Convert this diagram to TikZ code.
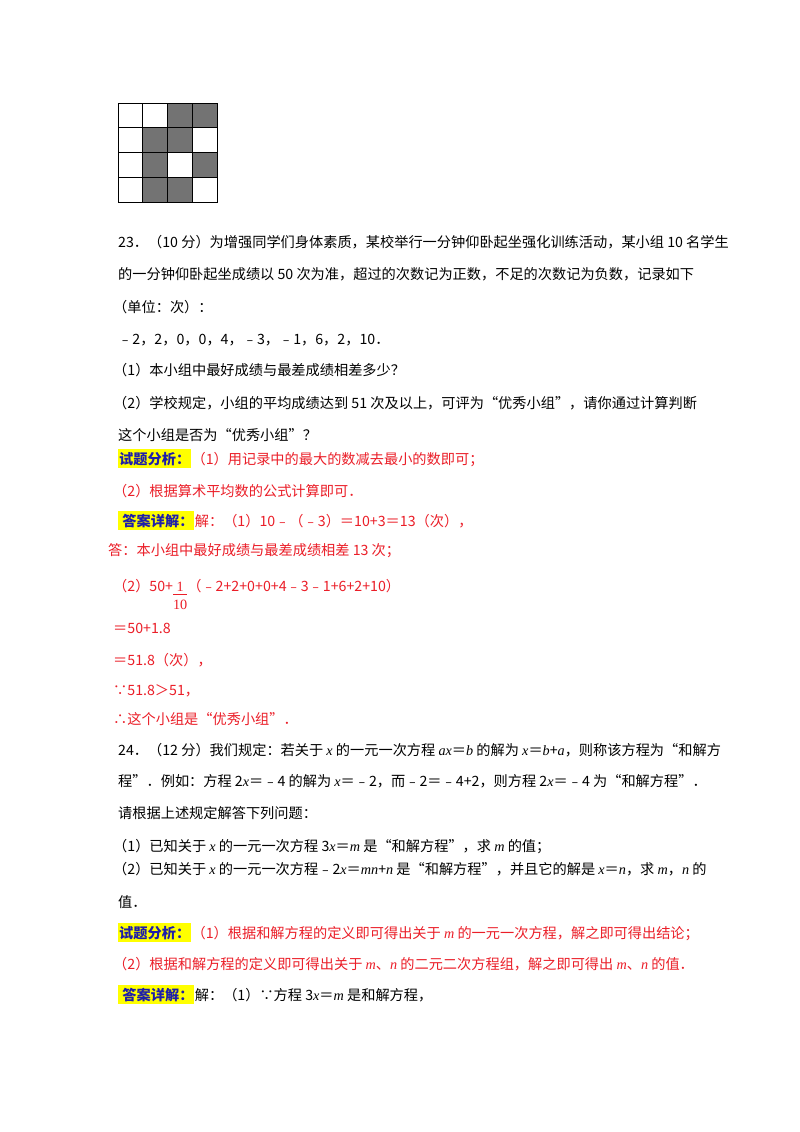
\documentclass[tikz,border=0pt]{standalone}
\usepackage{fontspec}
\setmainfont{Noto Sans CJK SC}
\newfontfamily\lser{Liberation Serif}
\newcommand{\vv}[1]{{\lser\itshape #1}}
\newcommand{\myfrac}[2]{\raisebox{-0.45\height}{\begin{tabular}{@{}c@{}}{\lser #1}\\[-2pt]\hline\rule{0pt}{15pt}{\lser #2}\end{tabular}}}
\definecolor{ansred}{RGB}{235,30,40}
\definecolor{lblue}{RGB}{30,30,170}
\definecolor{hly}{RGB}{255,255,0}
\tikzset{ln/.style={anchor=base west,inner sep=0pt,font=\fontsize{14.2}{17}\selectfont},
 red/.style={text=ansred},
 lab/.style={anchor=base west,inner xsep=1pt,inner ysep=3pt,fill=hly,text=lblue,font=\fontsize{14.2}{17}\selectfont\bfseries},
 dark/.style={fill=black!55,draw=black,line width=0.9pt},
 light/.style={fill=white,draw=black,line width=0.9pt}}
\newcommand{\Ln}[4][]{\node[ln,#1] (#2) at #3 {#4};}
\begin{document}
\begin{tikzpicture}[x=1pt,y=-1pt]
\useasboundingbox (0,0) rectangle (800,1132);
\fill[white] (0,0) rectangle (800,1132);
% grid
\foreach \r/\c/\s in {0/0/light,0/1/light,0/2/dark,0/3/dark,1/0/light,1/1/dark,1/2/dark,1/3/light,2/0/light,2/1/dark,2/2/light,2/3/dark,3/0/light,3/1/dark,3/2/dark,3/3/light}
  \draw[\s] ({118+24.75*\c},{103+24.75*\r}) rectangle ++(24.75,24.75);
\Ln{a1}{(118,247)}{23．（10 分）为增强同学们身体素质，某校举行一分钟仰卧起坐强化训练活动，某小组 10 名学生}
\Ln{a2}{(118,279)}{的一分钟仰卧起坐成绩以 50 次为准，超过的次数记为正数，不足的次数记为负数，记录如下}
\Ln{a3}{(113,312)}{（单位：次）：}
\Ln{a4}{(118,344)}{﹣2，2，0，0，4，﹣3，﹣1，6，2，10．}
\Ln{a5}{(113,375)}{（1）本小组中最好成绩与最差成绩相差多少？}
\Ln{a6}{(113,408)}{（2）学校规定，小组的平均成绩达到 51 次及以上，可评为“优秀小组”，请你通过计算判断}
\Ln{a7}{(118,440)}{这个小组是否为“优秀小组”？}
\node[lab] (l1) at (118,464) {试题分析：};
\node[ln,red,anchor=base west] (b1) at (l1.base east) {（1）用记录中的最大的数减去最小的数即可；};
\Ln[red]{b2}{(113,496)}{（2）根据算术平均数的公式计算即可．}
\node[lab] (l2) at (118,526) {\ 答案详解：};
\node[ln,red,anchor=base west] (b3) at (l2.base east) {解：（1）10﹣（﹣3）＝10+3＝13（次），};
\Ln[red]{b4}{(108,555)}{答：本小组中最好成绩与最差成绩相差 13 次；}
\Ln[red]{b5}{(113,591)}{（2）50+\myfrac{1}{10}（﹣2+2+0+0+4﹣3﹣1+6+2+10）}
\Ln[red]{b6}{(113,633)}{＝50+1.8}
\Ln[red]{b7}{(113,665)}{＝51.8（次），}
\Ln[red]{b8}{(113,695)}{∵51.8＞51，}
\Ln[red]{b9}{(113,724)}{∴这个小组是“优秀小组”．}
\Ln{c1}{(118,755)}{24．（12 分）我们规定：若关于 \vv{x} 的一元一次方程 \vv{ax}＝\vv{b} 的解为 \vv{x}＝\vv{b}+\vv{a}，则称该方程为“和解方}
\Ln{c2}{(118,786)}{程”．例如：方程 2\vv{x}＝﹣4 的解为 \vv{x}＝﹣2，而﹣2＝﹣4+2，则方程 2\vv{x}＝﹣4 为“和解方程”．}
\Ln{c3}{(118,818)}{请根据上述规定解答下列问题：}
\Ln{c4}{(113,851)}{（1）已知关于 \vv{x} 的一元一次方程 3\vv{x}＝\vv{m} 是“和解方程”，求 \vv{m} 的值；}
\Ln{c5}{(113,874)}{（2）已知关于 \vv{x} 的一元一次方程﹣2\vv{x}＝\vv{mn}+\vv{n} 是“和解方程”，并且它的解是 \vv{x}＝\vv{n}，求 \vv{m}，\vv{n} 的}
\Ln{c6}{(118,907)}{值．}
\node[lab] (l3) at (118,938) {试题分析：};
\node[ln,red,anchor=base west] (d1) at (l3.base east) {（1）根据和解方程的定义即可得出关于 \vv{m} 的一元一次方程，解之即可得出结论；};
\Ln[red]{d2}{(113,969)}{（2）根据和解方程的定义即可得出关于 \vv{m}、\vv{n} 的二元二次方程组，解之即可得出 \vv{m}、\vv{n} 的值．}
\node[lab] (l4) at (118,1000) {\ 答案详解：};
\node[ln,anchor=base west] (d3) at (l4.base east) {解：（1）∵方程 3\vv{x}＝\vv{m} 是和解方程，};
\end{tikzpicture}
\end{document}
